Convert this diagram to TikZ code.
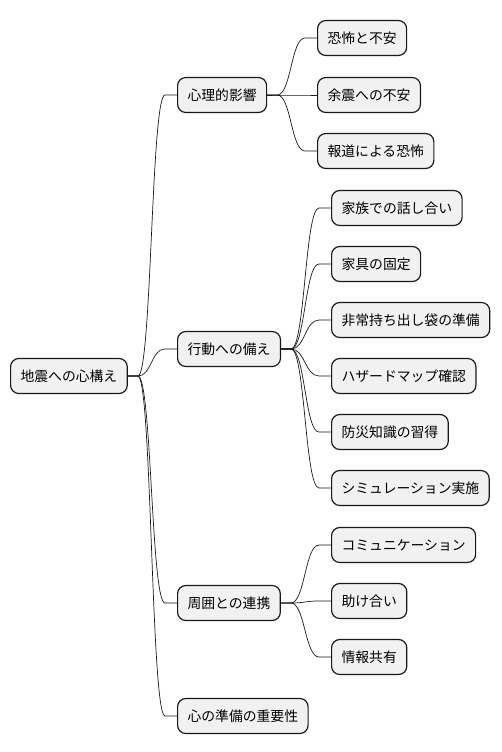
\documentclass[tikz,border=0pt]{standalone}
\usepackage{fontspec}
\newfontfamily\jpfont{Noto Sans CJK JP}
\usepackage{tikz}
\usetikzlibrary{positioning,calc}
\definecolor{nodegray}{HTML}{F1F1F1}
\definecolor{linegray}{HTML}{181818}
\tikzset{
  topicbox/.style={draw=linegray, fill=nodegray, line width=1pt, rounded corners=7pt, minimum height=1.05cm, inner xsep=8.5pt, anchor=west, font=\jpfont\fontsize{11.8}{14}\selectfont},
  branchline/.style={draw=linegray, line width=0.6pt}
}
\begin{document}
\begin{tikzpicture}[x=0.03cm, y=-0.03cm]
    \useasboundingbox (0,0) rectangle (502,752);
    % root and first level
    \node[topicbox] (root) at (10,376) {地震への心構え};
    \node[topicbox] (psych) at (177,95) {心理的影響};
    \node[topicbox] (action) at (177,349) {行動への備え};
    \node[topicbox] (neighbor) at (177,603) {周囲との連携};
    \node[topicbox] (mind) at (177,716) {心の準備の重要性};
    % second level
    \node[topicbox] (fear) at (317,38) {恐怖と不安};
    \node[topicbox] (aftershock) at (317,95) {余震への不安};
    \node[topicbox] (news) at (317,151) {報道による恐怖};
    \node[topicbox] (family) at (331,208) {家族での話し合い};
    \node[topicbox] (furniture) at (331,264) {家具の固定};
    \node[topicbox] (kit) at (331,320) {非常持ち出し袋の準備};
    \node[topicbox] (hazard) at (331,376) {ハザードマップ確認};
    \node[topicbox] (knowledge) at (331,432) {防災知識の習得};
    \node[topicbox] (drill) at (331,488) {シミュレーション実施};
    \node[topicbox] (talk) at (331,545) {コミュニケーション};
    \node[topicbox] (help) at (331,601) {助け合い};
    \node[topicbox] (share) at (331,657) {情報共有};
    % branches
    \foreach \p/\c in {root/psych, root/action, root/neighbor, root/mind,
                       psych/fear, psych/aftershock, psych/news,
                       action/family, action/furniture, action/kit, action/hazard, action/knowledge, action/drill,
                       neighbor/talk, neighbor/help, neighbor/share}
      \draw[branchline] (\p.east) -- ++(10,0) .. controls +(14,0) and +(-14,0) .. ($(\c.west)+(-12,0)$) -- (\c.west);
\end{tikzpicture}
\end{document}
